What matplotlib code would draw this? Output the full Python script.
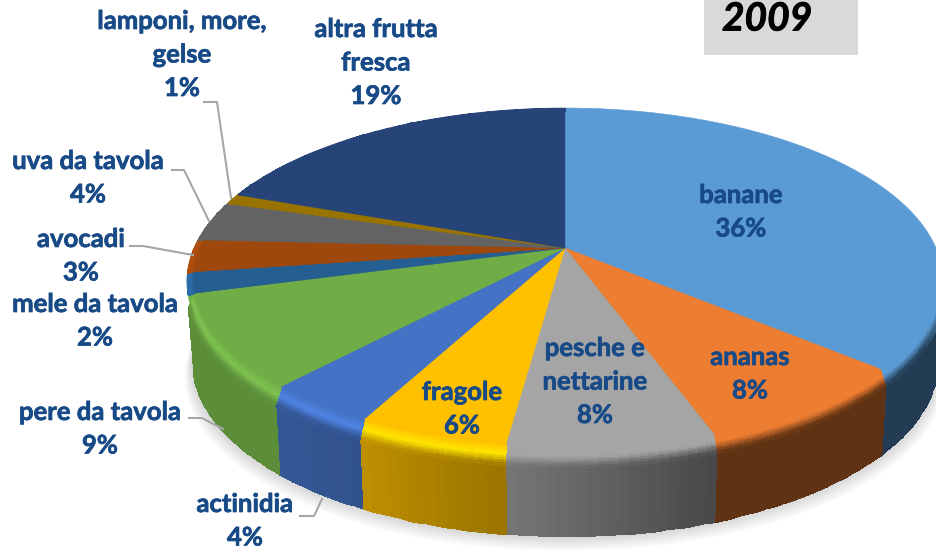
import numpy as np
import matplotlib
matplotlib.use("Agg")
import matplotlib.pyplot as plt
from matplotlib.patches import Polygon, Rectangle
import matplotlib.patheffects as pe

names = ["banane", "ananas", "pesche e\nnettarine", "fragole", "actinidia", "pere da tavola",
         "mele da tavola", "avocadi", "uva da tavola", "lamponi, more,\ngelse", "altra frutta\nfresca"]
values = [36.4, 8.2, 7.5, 5.5, 4.1, 9.0, 2.0, 3.1, 3.8, 1.0, 19.4]
colors = ["#5b9bd5", "#ed7d31", "#a5a5a5", "#ffc000", "#4472c4", "#70ad47",
          "#255e91", "#9e480e", "#636363", "#997300", "#264478"]
wall_left = [.39, .40, .71, .74, .76, .82, .8, .8, .8, .8, .8]
wall_right = [.39, .40, .44, .61, .72, .82, .8, .8, .8, .8, .8]
highlight = [0, 0, 0, .2, .16, .12, .15, .1, 0, 0, 0]
has_wall = [True] * 6 + [False] * 5
label_pos = [(741, 195), (750, 357), (595, 348), (462, 392), (245, 504), (100, 412),
             (95, 304), (81, 239), (88, 161), (182, 21), (376, 29)]
leaders = {4: [(300, 516), (314, 516), (322, 499)],
           5: [(189, 418), (202, 418), (223, 429)],
           7: [(130, 246), (143, 246), (193, 255)],
           8: [(172, 170), (184, 170), (209, 221)],
           9: [(204, 102), (217, 102), (231, 198)]}
title = "2009"

CX, CY, A, B, K = 565, 248, 371, 167, 0.193
DEPTH = 81
RIM = 12
plt.rcParams["font.family"] = ["Lato", "DejaVu Sans"]


def project(theta, ru=1.0, rv=1.0):
    u, v = ru * np.sin(theta), rv * np.cos(theta)
    w = 1 + K * v
    return CX + A * u / w, CY - B * v / w


fig = plt.figure(figsize=(9.37, 5.5), dpi=100)
ax = fig.add_axes([0, 0, 1, 1])
ax.set_xlim(0, 937)
ax.set_ylim(550, 0)
ax.axis("off")

# soft shadow
t = np.linspace(0, 2 * np.pi, 300)
sx, sy = project(t)
for d in range(1, 15):
    ax.add_patch(Polygon(np.c_[CX + (sx - CX) * (0.985 + d * .0015), sy + DEPTH + d * 1.1], closed=True,
                         fc="black", ec="none", alpha=0.012, zorder=1))

edges = np.cumsum([0] + values) / sum(values) * 2 * np.pi
to_rgb = matplotlib.colors.to_rgb


def band_weight(th):
    """Rim is drawn on the near side only."""
    d = np.degrees(th)
    return np.clip((d - 95) / 25, 0, 1) * np.clip((285 - d) / 15, 0, 1)


for i, c in enumerate(colors):
    th = np.linspace(edges[i], edges[i + 1], max(6, int(values[i] * 3)))
    base = np.array(to_rgb(c))
    frac = np.linspace(0, 1, len(th) - 1)[::-1]
    shade = wall_right[i] + (wall_left[i] - wall_right[i]) * (1 - frac)
    wall = base[None, :] * shade[:, None]
    x, y = project(th)
    if has_wall[i]:
        rows = np.array([RIM, DEPTH])[:, None]
        scale = 1 - 0.015 * (rows - RIM) / (DEPTH - RIM)
        X = CX + (x[None, :] - CX) * scale
        Y = y[None, :] + rows
        ax.pcolormesh(X, Y, wall[None, :, :], shading="flat", edgecolors="face", linewidth=.4, zorder=2)
    xx, yy = project(np.linspace(edges[i], edges[i + 1], 80))
    ts = np.linspace(0, 1, 13)
    xi, yi = project(th, 0.985, 0.965)
    BX = xi[None, :] + (x - xi)[None, :] * ts[:, None]
    BY = yi[None, :] + (y + RIM * has_wall[i] - yi)[None, :] * ts[:, None]
    tm = (ts[:-1] + ts[1:]) / 2
    hl = np.clip(base * (1 + highlight[i]), 0, 1)
    C = np.zeros((len(tm), len(th) - 1, 3))
    mid = 0.5
    w = band_weight((th[:-1] + th[1:]) / 2)
    for r, tv in enumerate(tm):
        if tv < mid:
            C[r] = base + (hl - base) * tv / mid
        elif has_wall[i]:
            C[r] = hl + (wall - hl) * (tv - mid) / (1 - mid)
        else:
            C[r] = hl
    C = base + (C - base) * w[None, :, None]
    ax.add_patch(Polygon(np.r_[[[CX, CY]], np.c_[xx, yy]], closed=True, fc=c, ec=c, lw=.4, zorder=3))
    ax.pcolormesh(BX, BY, C, shading="flat", edgecolors="face", linewidth=.4, zorder=4)

for i, c in enumerate(colors):
    xx, yy = project(np.linspace(edges[i], edges[i + 1], 80), 0.985, 0.965)
    ax.add_patch(Polygon(np.r_[[[CX, CY]], np.c_[xx, yy]], closed=True, fc=c, ec=c, lw=.3, zorder=5))

for pts in leaders.values():
    ax.plot(*zip(*pts), color="#a6a6a6", lw=1.5, zorder=6, solid_joinstyle="round")

TXT = "#174a87"
LINE = 33.5
stroke = [pe.withStroke(linewidth=.5, foreground=TXT)]
for name, val, (lx, ly) in zip(names, values, label_pos):
    for j, line in enumerate(name.split("\n") + [f"{val:.0f}%"]):
        ax.text(lx, ly + j * LINE, line, ha="center", va="center", color=TXT,
                fontsize=18.5, fontweight="bold", zorder=7, path_effects=stroke)

ax.add_patch(Rectangle((704, 0), 154, 55, fc="#d9d9d9", ec="none", zorder=1))
ax.text(767, 19, title, ha="center", va="center", fontsize=28, fontweight="bold",
        fontstyle="italic", color="black", zorder=7,
        path_effects=[pe.withStroke(linewidth=.6, foreground="black")])

fig.savefig("out.png", dpi=100)
